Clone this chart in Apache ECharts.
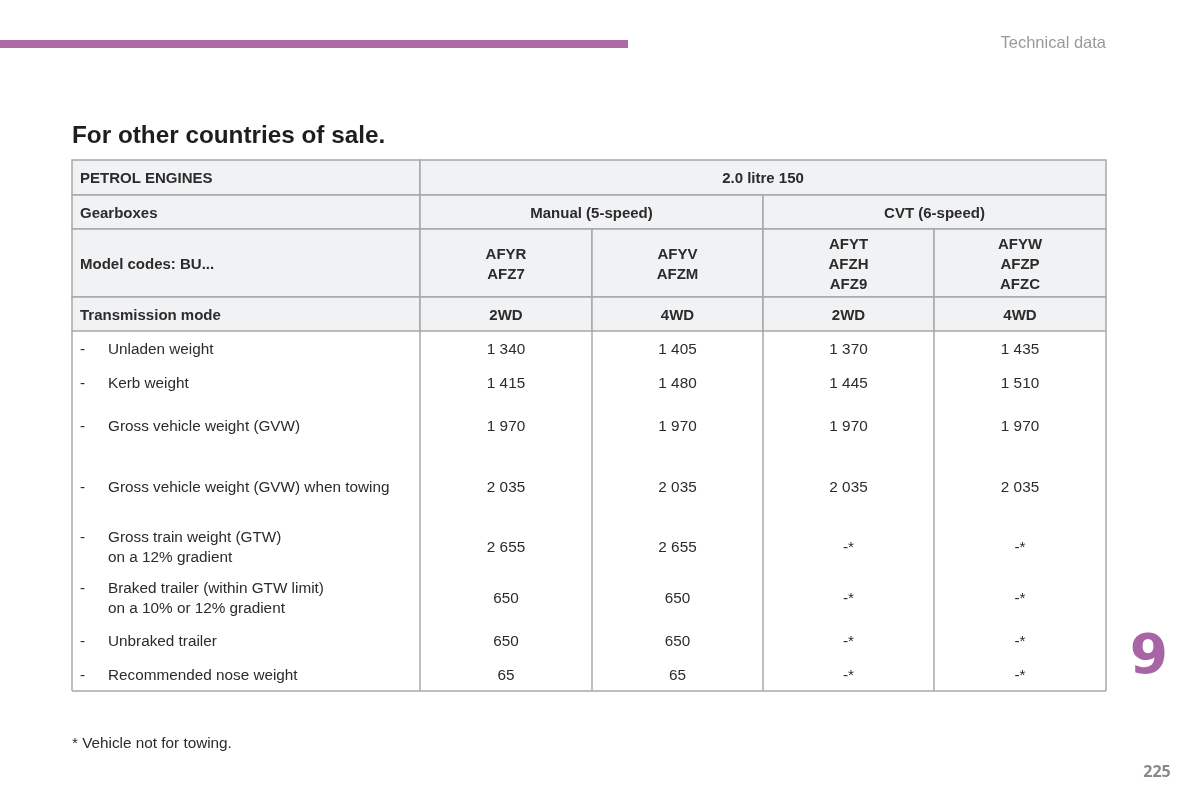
<!DOCTYPE html>
<html>
<head>
<meta charset="utf-8">
<script src="https://cdn.jsdelivr.net/npm/echarts@6/dist/echarts.min.js"></script>
<style>
html,body{margin:0;padding:0;background:#fff;}
#main{width:1200px;height:800px;}
</style>
</head>
<body>
<div id="main"></div>
<script>
// ---------- DATA ----------
const pageSection = 'Technical data';
const pageTitle = 'For other countries of sale.';
const engineLabel = 'PETROL ENGINES';
const engineName = '2.0 litre 150';
const gearboxLabel = 'Gearboxes';
const gearboxes = ['Manual (5-speed)', 'CVT (6-speed)'];
const modelLabel = 'Model codes: BU...';
const modelCodes = ['AFYR\nAFZ7', 'AFYV\nAFZM', 'AFYT\nAFZH\nAFZ9', 'AFYW\nAFZP\nAFZC'];
const transmissionLabel = 'Transmission mode';
const transmissionModes = ['2WD', '4WD', '2WD', '4WD'];
const rowLabels = [
  'Unladen weight',
  'Kerb weight',
  'Gross vehicle weight (GVW)',
  'Gross vehicle weight (GVW) when towing',
  'Gross train weight (GTW)\non a 12% gradient',
  'Braked trailer (within GTW limit)\non a 10% or 12% gradient',
  'Unbraked trailer',
  'Recommended nose weight'
];
const manual2wd = [1340, 1415, 1970, 2035, 2655, 650, 650, 65];
const manual4wd = [1405, 1480, 1970, 2035, 2655, 650, 650, 65];
const cvt2wd = [1370, 1445, 1970, 2035, null, null, null, null];
const cvt4wd = [1435, 1510, 1970, 2035, null, null, null, null];
const footnote = '* Vehicle not for towing.';
const chapterNumber = '9';
const pageNumber = '225';

// ---------- LAYOUT ----------
const colEdges = [72, 420, 592, 763, 934, 1106];
const headerEdges = [160, 195, 229, 297, 331];
const bodyCenters = [348, 382, 425, 486, 546, 597, 640, 674];
const tableBottom = 691;
const FONT = 'Liberation Sans, Arial, Helvetica, sans-serif';
const TEXT = '#2b2b2b';
const BORDER = '#a8a8a8';
const HEADFILL = '#f1f2f4';
const PURPLE = '#ad6aa6';

function fmt(v) {
  if (v === null) return '-*';
  const s = String(v);
  return s.length > 3 ? s.slice(0, s.length - 3) + ' ' + s.slice(-3) : s;
}
const valueCols = [manual2wd, manual4wd, cvt2wd, cvt4wd];

// header cells: [c0, c1, r, text, align]
const headerCells = [
  [0, 1, 0, engineLabel, 'left'], [1, 5, 0, engineName, 'center'],
  [0, 1, 1, gearboxLabel, 'left'], [1, 3, 1, gearboxes[0], 'center'], [3, 5, 1, gearboxes[1], 'center'],
  [0, 1, 2, modelLabel, 'left'],
  ...modelCodes.map((t, i) => [i + 1, i + 2, 2, t, 'center']),
  [0, 1, 3, transmissionLabel, 'left'],
  ...transmissionModes.map((t, i) => [i + 1, i + 2, 3, t, 'center'])
];
const headerData = headerCells.map(c => [colEdges[c[0]], colEdges[c[1]], headerEdges[c[2]], headerEdges[c[2] + 1]]);

// body cells
const bodyCells = [];
rowLabels.forEach((lab, r) => {
  bodyCells.push({ x0: colEdges[0], x1: colEdges[1], y: bodyCenters[r], text: lab, label: true });
  valueCols.forEach((col, c) => {
    bodyCells.push({ x0: colEdges[c + 1], x1: colEdges[c + 2], y: bodyCenters[r], text: fmt(col[r]), label: false });
  });
});
const bodyData = bodyCells.map(b => [b.x0, b.x1, b.y]);

// body vertical lines + bottom line
const lineData = colEdges.map(x => [x, headerEdges[4], x, tableBottom]);
lineData.push([colEdges[0], tableBottom, colEdges[5], tableBottom]);

const chart = echarts.init(document.getElementById('main'), null, { renderer: 'canvas' });
chart.setOption({
  animation: false,
  backgroundColor: '#fff',
  grid: { left: 0, right: 0, top: 0, bottom: 0 },
  xAxis: { type: 'value', min: 0, max: 1200, show: false },
  yAxis: { type: 'value', min: 0, max: 800, inverse: true, show: false },
  graphic: [
    { type: 'rect', shape: { x: 0, y: 40, width: 628, height: 8 }, style: { fill: PURPLE } },
    { type: 'text', style: { text: pageSection, x: 1106, y: 43, align: 'right', verticalAlign: 'middle', fill: '#9a9a9a', font: '16.5px ' + FONT } },
    { type: 'text', style: { text: pageTitle, x: 72, y: 136, align: 'left', verticalAlign: 'middle', fill: '#1e1e1e', font: 'bold 24.3px ' + FONT } },
    { type: 'text', style: { text: footnote, x: 72, y: 744, align: 'left', verticalAlign: 'middle', fill: TEXT, font: '15.3px ' + FONT } },
    { type: 'text', style: { text: chapterNumber, x: 1149, y: 659, align: 'center', verticalAlign: 'middle', fill: '#a865a5', font: 'bold 55px "DejaVu Sans", ' + FONT } },
    { type: 'text', style: { text: pageNumber, x: 1157, y: 772, align: 'center', verticalAlign: 'middle', fill: '#8a8a8a', font: 'bold 16px "Open Sans", ' + FONT } }
  ],
  series: [
    {
      type: 'custom',
      coordinateSystem: 'cartesian2d',
      data: headerData,
      encode: { x: [0, 1], y: [2, 3] },
      renderItem: function (params, api) {
        const p0 = api.coord([api.value(0), api.value(2)]);
        const p1 = api.coord([api.value(1), api.value(3)]);
        const cell = headerCells[params.dataIndex];
        const left = cell[4] === 'left';
        return {
          type: 'group',
          children: [
            { type: 'rect', shape: { x: p0[0], y: p0[1], width: p1[0] - p0[0], height: p1[1] - p0[1] },
              style: { fill: HEADFILL, stroke: BORDER, lineWidth: 1.5 } },
            { type: 'text', style: {
                text: cell[3], x: left ? p0[0] + 8 : (p0[0] + p1[0]) / 2, y: (p0[1] + p1[1]) / 2 + 1.5,
                align: left ? 'left' : 'center', verticalAlign: 'middle', lineHeight: 20,
                fill: TEXT, font: 'bold 15px ' + FONT } }
          ]
        };
      },
      z: 2
    },
    {
      type: 'custom',
      coordinateSystem: 'cartesian2d',
      data: bodyData,
      encode: { x: [0, 1], y: 2 },
      renderItem: function (params, api) {
        const p0 = api.coord([api.value(0), api.value(2)]);
        const p1 = api.coord([api.value(1), api.value(2)]);
        const cell = bodyCells[params.dataIndex];
        const font = '15.3px ' + FONT;
        if (cell.label) {
          const lines = cell.text.split('\n').length;
          return {
            type: 'group',
            children: [
              { type: 'text', style: { text: '-', x: p0[0] + 8, y: p0[1] + 1.5 - (lines - 1) * 10, align: 'left', verticalAlign: 'middle', fill: TEXT, font: font } },
              { type: 'text', style: { text: cell.text, x: p0[0] + 36, y: p0[1] + 1.5, align: 'left', verticalAlign: 'middle', lineHeight: 20, fill: TEXT, font: font } }
            ]
          };
        }
        return { type: 'text', style: { text: cell.text, x: (p0[0] + p1[0]) / 2, y: p0[1] + 1.5, align: 'center', verticalAlign: 'middle', fill: TEXT, font: font } };
      },
      z: 3
    },
    {
      type: 'custom',
      coordinateSystem: 'cartesian2d',
      data: lineData,
      encode: { x: [0, 2], y: [1, 3] },
      renderItem: function (params, api) {
        const a = api.coord([api.value(0), api.value(1)]);
        const b = api.coord([api.value(2), api.value(3)]);
        return { type: 'line', shape: { x1: a[0], y1: a[1], x2: b[0], y2: b[1] }, style: { stroke: BORDER, lineWidth: 1.5 } };
      },
      z: 1
    }
  ]
});
</script>
</body>
</html>
